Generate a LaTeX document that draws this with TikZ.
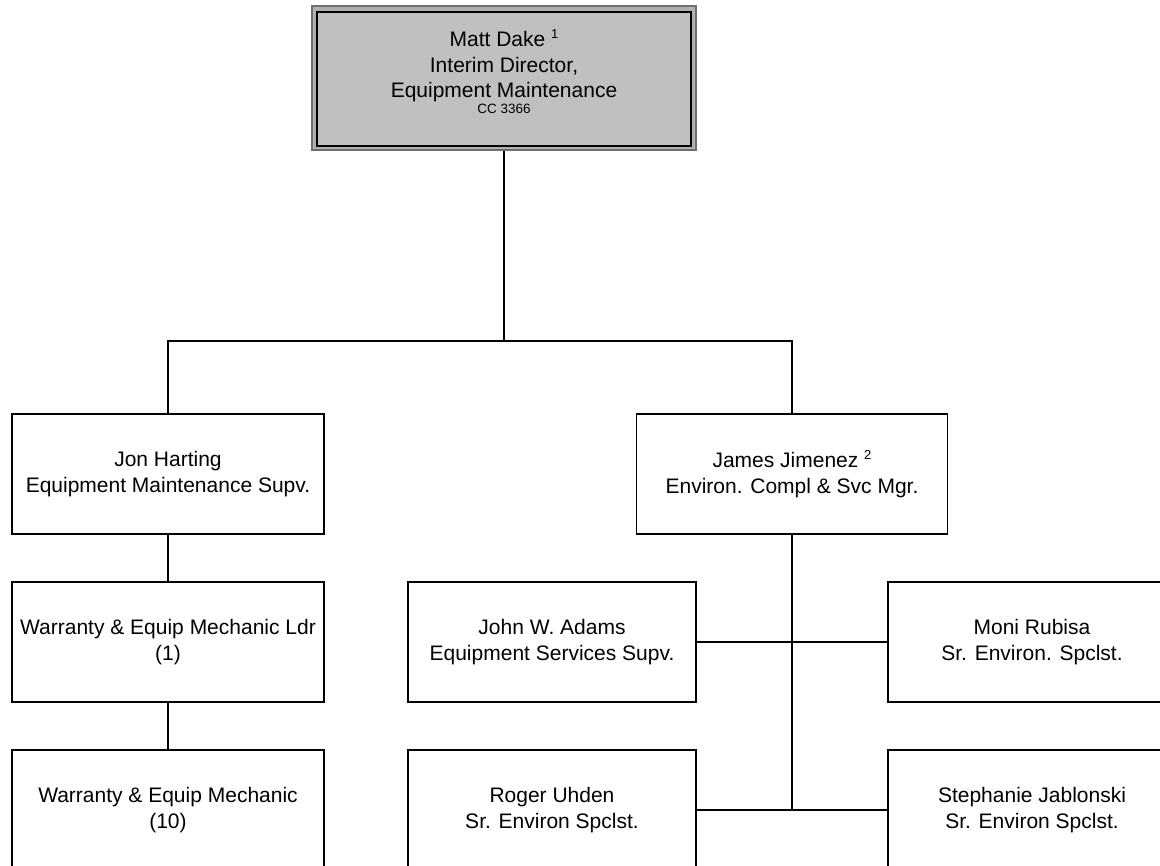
\documentclass[tikz,border=0pt]{standalone}
\usepackage{fontspec}
\setmainfont{Liberation Sans}
\definecolor{outergray}{HTML}{6E6E6E}
\definecolor{bandgray}{HTML}{B0B0B0}
\definecolor{fillgray}{HTML}{C0C0C0}
\begin{document}
\begin{tikzpicture}[x=1pt,y=-1pt,
  box/.style={draw=black, line width=1.8pt, minimum height=120pt, inner sep=0pt,
    align=center, font=\fontsize{21}{25.5}\selectfont},
  wbox/.style={box, minimum width=312pt},
  nbox/.style={box, minimum width=288pt},
  topouter/.style={draw=outergray, fill=bandgray, line width=1.8pt, minimum width=384pt, minimum height=144pt, inner sep=0pt},
  topinner/.style={draw=black, fill=fillgray, line width=1.8pt, minimum width=374pt, minimum height=134pt, inner sep=0pt},
  txt/.style={align=center, inner sep=0pt, font=\fontsize{21}{25.5}\selectfont},
  small/.style={inner sep=0pt, font=\fontsize{13.5}{15}\selectfont},
  conn/.style={draw=black, line width=1.8pt}
]
\useasboundingbox (0,0) rectangle (1160,866);
\clip (0,0) rectangle (1160,866);
\newcommand{\supnum}[1]{\raisebox{0.75ex}{\fontsize{13}{13}\selectfont #1}}

% top box
\node[topouter] (top) at (504,78) {};
\node[topinner] (topin) at (504,79) {};
\node[txt] (toptext) at (504,66) {Matt Dake \supnum{1}\\Interim Director,\\Equipment Maintenance};
\node[small] (cc) at (504,109) {CC 3366};

% second level
\node[wbox] (jon) at (168,474) {Jon Harting\\Equipment Maintenance Supv.};
\node[box, minimum width=311pt] (james) at (792,474) {James Jimenez \supnum{2}\\Environ. Compl \& Svc Mgr.};

% left column
\node[wbox] (ldr) at (168,642) {Warranty \& Equip Mechanic Ldr\\(1)};
\node[wbox] (mech) at (168,810) {Warranty \& Equip Mechanic\\(10)};

% right group
\node[nbox] (adams) at (552,642) {John W. Adams\\Equipment Services Supv.};
\node[nbox] (moni) at (1032,642) {Moni Rubisa\\Sr. Environ. Spclst.};
\node[nbox] (roger) at (552,810) {Roger Uhden\\Sr. Environ Spclst.};
\node[nbox] (steph) at (1032,810) {Stephanie Jablonski\\Sr. Environ Spclst.};

% connectors
\coordinate (bus) at (504,341);
\draw[conn] (top.south) -- (bus);
\draw[conn] (jon.north) -- (jon.north |- bus) -- (james.north |- bus) -- (james.north);
\draw[conn] (jon.south) -- (ldr.north);
\draw[conn] (ldr.south) -- (mech.north);
\draw[conn] (james.south) -- (james.south |- roger.east);
\draw[conn] (adams.east) -- (moni.west);
\draw[conn] (roger.east) -- (steph.west);
\end{tikzpicture}
\end{document}
